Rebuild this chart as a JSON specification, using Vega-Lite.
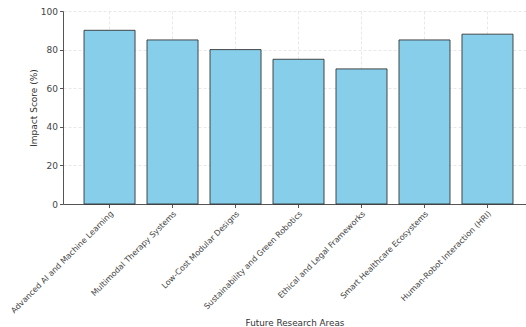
{
  "$schema": "https://vega.github.io/schema/vega-lite/v6.json",
  "width": 463,
  "height": 193,
  "padding": {"left": 63, "top": 11, "right": 0, "bottom": 123},
  "autosize": {"type": "none"},
  "background": "white",
  "data": {
    "values": [
      {"area": "Advanced AI and Machine Learning", "score": 90},
      {"area": "Multimodal Therapy Systems", "score": 85},
      {"area": "Low-Cost Modular Designs", "score": 80},
      {"area": "Sustainability and Green Robotics", "score": 75},
      {"area": "Ethical and Legal Frameworks", "score": 70},
      {"area": "Smart Healthcare Ecosystems", "score": 85},
      {"area": "Human-Robot Interaction (HRI)", "score": 88}
    ]
  },
  "mark": {"type": "bar", "fill": "#87CEEB", "stroke": "#2b2b2b", "strokeWidth": 1, "strokeOpacity": 0.85},
  "encoding": {
    "x": {
      "field": "area",
      "type": "nominal",
      "sort": null,
      "scale": {"paddingInner": 0.19, "paddingOuter": 0.27, "align": 0.618},
      "axis": {
        "title": "Future Research Areas",
        "labelAngle": -45,
        "labelAlign": "right",
        "labelBaseline": "top",
        "labelFontSize": 8,
        "labelPadding": 2,
        "labelColor": "#444",
        "labelLimit": 300,
        "tickSize": 3.5,
        "tickColor": "#555",
        "domainColor": "#555",
        "grid": true,
        "gridColor": "#e2e2e2",
        "gridDash": [3, 2],
        "gridWidth": 0.8,
        "titleFontSize": 8.8,
        "titleFontWeight": "normal",
        "titleColor": "#333",
        "titlePadding": 4
      }
    },
    "y": {
      "field": "score",
      "type": "quantitative",
      "scale": {"domain": [0, 100], "nice": false},
      "axis": {
        "title": "Impact Score (%)",
        "values": [0, 20, 40, 60, 80, 100],
        "labelFontSize": 9,
        "labelColor": "#444",
        "labelPadding": 2,
        "tickSize": 3.5,
        "tickColor": "#555",
        "domainColor": "#555",
        "gridColor": "#e2e2e2",
        "gridDash": [3, 2],
        "gridWidth": 0.8,
        "titleFontSize": 9,
        "titleFontWeight": "normal",
        "titleColor": "#333",
        "titlePadding": 2
      }
    }
  },
  "config": {
    "font": "DejaVu Sans",
    "view": {"stroke": null},
    "axis": {"domainWidth": 1, "tickWidth": 1}
  }
}
